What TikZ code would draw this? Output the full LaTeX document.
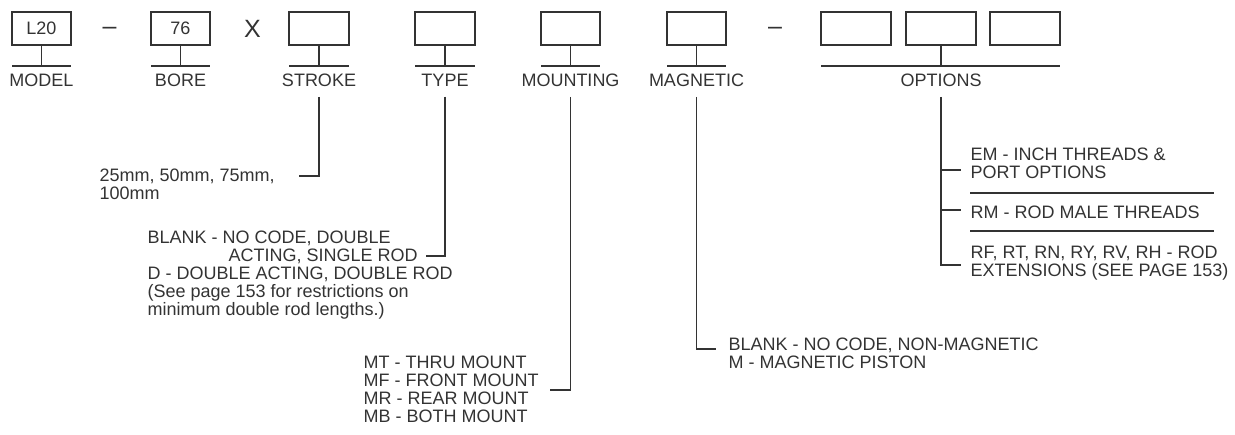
\documentclass[tikz,border=0pt]{standalone}
\usepackage{fontspec}
\setmainfont{Liberation Sans}
\definecolor{ink}{HTML}{333333}
\newcommand{\fs}{\fontsize{18}{18}\selectfont}
\begin{document}
\begin{tikzpicture}[x=1pt,y=-1pt,line width=1.2pt,draw=ink,text=ink,
  codebox/.style={draw=ink,minimum height=33pt,inner sep=0pt,font=\fs},
  lbl/.style={inner sep=0pt,font=\fs,anchor=base},
  desc/.style={inner sep=0pt,font=\fs,align=left,anchor=base west},
  sep/.style={inner sep=0pt,font=\fontsize{25}{25}\selectfont}]
\useasboundingbox (0,0) rectangle (1235,435);
% code boxes
\node[codebox,minimum width=59pt] (bmodel) at (41.5,28.5) {L20};
\node[codebox,minimum width=59pt] (bbore) at (180.5,28.5) {76};
\node[codebox,minimum width=60pt] (bstroke) at (319,28.5) {};
\node[codebox,minimum width=60pt] (btype) at (445,28.5) {};
\node[codebox,minimum width=59pt] (bmount) at (570.5,28.5) {};
\node[codebox,minimum width=59pt] (bmag) at (696.5,28.5) {};
\node[codebox,minimum width=70pt] (bopt1) at (856,28.5) {};
\node[codebox,minimum width=70pt] (bopt2) at (941,28.5) {};
\node[codebox,minimum width=70pt] (bopt3) at (1025,28.5) {};
% separators
\node[sep] (dash1) at (109.5,31) {–};
\node[sep] (xsep) at (252.5,29) {X};
\node[sep] (dash2) at (775,31) {–};
% underlines and stems
\foreach \b/\l/\r in {bmodel/12/71,bbore/151/210,bstroke/289/349,btype/415/475,bmount/541/600,bmag/667/726}{
  \coordinate (\b-u) at (\b.south |- 0,66);
  \draw (\b.south) -- (\b-u);
  \draw (\l,66) -- (\r,66);
}
\coordinate (bopt2-u) at (bopt2.south |- 0,66);
\draw (bopt2.south) -- (bopt2-u);
\draw (821,66) -- (1060,66);
% labels
\node[lbl] (lmodel) at (41.5,87) {MODEL};
\node[lbl] (lbore) at (180.5,87) {BORE};
\node[lbl] (lstroke) at (319,87) {STROKE};
\node[lbl] (ltype) at (445,87) {TYPE};
\node[lbl] (lmount) at (570.5,87) {MOUNTING};
\node[lbl] (lmag) at (696.5,87) {MAGNETIC};
\node[lbl] (lopt) at (941,87) {OPTIONS};
% descriptions (anchor = baseline of last line)
\node[desc] (dstroke) at (99,200) {25mm, 50mm, 75mm,\\100mm};
\node[desc] (dtype) at (147,316) {BLANK - NO CODE, DOUBLE\\\hspace*{81pt}ACTING, SINGLE ROD\\D - DOUBLE ACTING, DOUBLE ROD\\(See page 153 for restrictions on\\minimum double rod lengths.)};
\node[desc] (dmount) at (363,423) {MT - THRU MOUNT\\MF - FRONT MOUNT\\MR - REAR MOUNT\\MB - BOTH MOUNT};
\node[desc] (dmag) at (728,369) {BLANK - NO CODE, NON-MAGNETIC\\M - MAGNETIC PISTON};
\node[desc] (dem) at (970,179) {EM - INCH THREADS \&\\PORT OPTIONS};
\node[desc] (drm) at (970,219) {RM - ROD MALE THREADS};
\node[desc] (drf) at (970,277) {RF, RT, RN, RY, RV, RH - ROD\\EXTENSIONS (SEE PAGE 153)};
% connector ends
\coordinate (cstroke) at (299,176);
\coordinate (ctype) at (426,256);
\coordinate (cmount) at (550,390);
\coordinate (cmag) at (716,349);
\coordinate (cem) at (961,170);
\coordinate (crm) at (961,210);
\coordinate (crf) at (961,265);
% drop connectors
\draw ([yshift=-9pt]lstroke.south) |- (cstroke);
\draw ([yshift=-9pt]ltype.south) |- (ctype);
\draw ([yshift=-9pt]lmount.south) |- (cmount);
\draw ([yshift=-9pt]lmag.south) |- (cmag);
\draw ([yshift=-9pt]lopt.south) |- (crf);
\draw (lopt.south |- cem) -- (cem);
\draw (lopt.south |- crm) -- (crm);
% option separators
\draw (970,193) -- (1214,193);
\draw (970,231) -- (1214,231);
\end{tikzpicture}
\end{document}
